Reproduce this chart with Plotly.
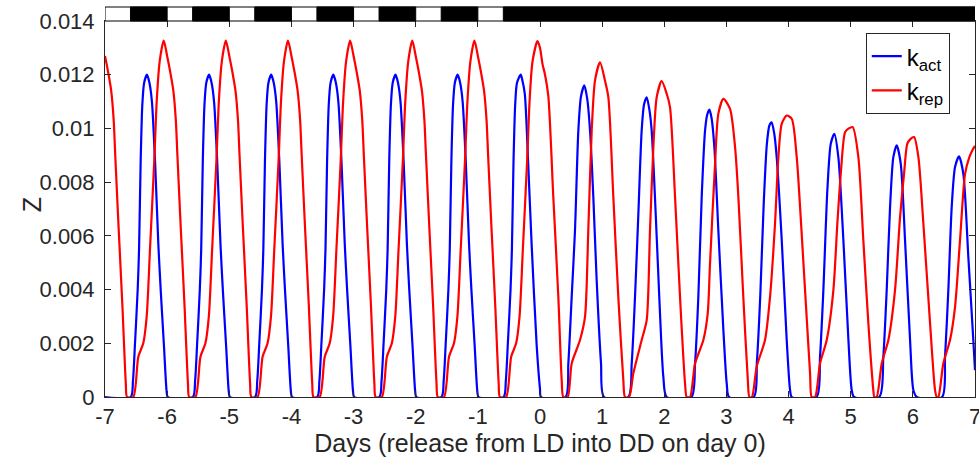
import plotly.graph_objects as go

# ---------------- data ----------------
# k_act (blue)
act_t = [
    -7.0, -6.586, -6.55, -6.517, -6.474, -6.452, -6.426, -6.399, -6.37, -6.325, -6.285, -6.245, -6.195, -6.142, -6.104, -6.051, -6.008, -5.99,
    -5.586, -5.55, -5.517, -5.474, -5.452, -5.426, -5.399, -5.37, -5.325, -5.285, -5.245, -5.195, -5.142, -5.104, -5.051, -5.008, -4.99,
    -4.586, -4.55, -4.517, -4.474, -4.452, -4.426, -4.399, -4.37, -4.325, -4.285, -4.245, -4.195, -4.142, -4.104, -4.051, -4.008, -3.99,
    -3.586, -3.55, -3.517, -3.474, -3.452, -3.426, -3.399, -3.37, -3.325, -3.285, -3.245, -3.195, -3.142, -3.104, -3.051, -3.008, -2.99,
    -2.586, -2.55, -2.517, -2.474, -2.452, -2.426, -2.399, -2.37, -2.325, -2.285, -2.245, -2.195, -2.142, -2.104, -2.051, -2.008, -1.99,
    -1.586, -1.55, -1.517, -1.474, -1.452, -1.426, -1.399, -1.37, -1.325, -1.285, -1.245, -1.195, -1.142, -1.104, -1.051, -1.008, -0.99,
    -0.586, -0.55, -0.517, -0.474, -0.452, -0.426, -0.399, -0.37, -0.31, -0.285, -0.245, -0.19, -0.135, -0.053, 0.0, 0.016,
    0.41, 0.456, 0.510, 0.563, 0.617, 0.66, 0.713, 0.76, 0.805, 0.858, 0.912, 0.982, 1.030,
    1.421, 1.476, 1.529, 1.583, 1.636, 1.675, 1.717, 1.76, 1.797, 1.878, 1.931, 1.985, 2.039,
    2.437, 2.495, 2.548, 2.602, 2.656, 2.69, 2.725, 2.76, 2.806, 2.870, 2.951, 3.005, 3.042,
    3.44, 3.49, 3.545, 3.60, 3.65, 3.69, 3.728, 3.77, 3.809, 3.890, 3.970, 4.024, 4.051,
    4.45, 4.506, 4.560, 4.624, 4.679, 4.737, 4.801, 4.882, 4.963, 5.016, 5.053,
    5.46, 5.525, 5.579, 5.633, 5.686, 5.740, 5.805, 5.874, 5.955, 6.008, 6.062,
    6.47, 6.518, 6.571, 6.625, 6.679, 6.743, 6.812, 6.893, 6.973, 7.0,
]
act_z = [
    0.0, 0.0, 0.0006, 0.0020, 0.0040, 0.0055, 0.0088, 0.0109, 0.0117, 0.0120, 0.0117, 0.0110, 0.0088, 0.0057, 0.0040, 0.0019, 0.0002, 0.0,
    0.0, 0.0006, 0.0020, 0.0040, 0.0055, 0.0088, 0.0109, 0.0117, 0.0120, 0.0117, 0.0110, 0.0088, 0.0057, 0.0040, 0.0019, 0.0002, 0.0,
    0.0, 0.0006, 0.0020, 0.0040, 0.0055, 0.0088, 0.0109, 0.0117, 0.0120, 0.0117, 0.0110, 0.0088, 0.0057, 0.0040, 0.0019, 0.0002, 0.0,
    0.0, 0.0006, 0.0020, 0.0040, 0.0055, 0.0088, 0.0109, 0.0117, 0.0120, 0.0117, 0.0110, 0.0088, 0.0057, 0.0040, 0.0019, 0.0002, 0.0,
    0.0, 0.0006, 0.0020, 0.0040, 0.0055, 0.0088, 0.0109, 0.0117, 0.0120, 0.0117, 0.0110, 0.0088, 0.0057, 0.0040, 0.0019, 0.0002, 0.0,
    0.0, 0.0006, 0.0020, 0.0040, 0.0055, 0.0088, 0.0109, 0.0117, 0.0120, 0.0117, 0.0110, 0.0088, 0.0057, 0.0040, 0.0019, 0.0002, 0.0,
    0.0, 0.0006, 0.0020, 0.0040, 0.0055, 0.0088, 0.0109, 0.0117, 0.0120, 0.0118, 0.0113, 0.0087, 0.0057, 0.0019, 0.0003, 0.0,
    0.0, 0.00125, 0.00373, 0.0062, 0.00992, 0.0112, 0.0116, 0.0111, 0.00992, 0.00745, 0.00435, 0.00125, 0.0,
    0.0, 0.00125, 0.00373, 0.00683, 0.00992, 0.0109, 0.01116, 0.0107, 0.00992, 0.00596, 0.00311, 0.00075, 0.0,
    0.0, 0.00125, 0.00373, 0.00745, 0.00992, 0.0105, 0.0107, 0.0104, 0.0093, 0.0062, 0.00249, 0.0005, 0.0,
    0.0, 0.0013, 0.0038, 0.0072, 0.0094, 0.0101, 0.01023, 0.0098, 0.00893, 0.00584, 0.00212, 0.00026, 0.0,
    0.0, 0.0015, 0.00398, 0.0077, 0.00943, 0.0098, 0.00893, 0.00584, 0.00212, 0.00026, 0.0,
    0.0, 0.0015, 0.00398, 0.00707, 0.00893, 0.00937, 0.00869, 0.00584, 0.00212, 0.00026, 0.0,
    0.0, 0.0015, 0.00398, 0.00707, 0.00856, 0.00896, 0.00831, 0.00521, 0.00212, 0.0010,
]

# k_rep (red)
rep_t = [
    -7.0, -6.95, -6.90, -6.86, -6.835, -6.785, -6.72, -6.665, -6.645,
    -6.545, -6.464, -6.384, -6.329, -6.276, -6.207, -6.168, -6.12, -6.055, -6.0, -5.95, -5.90, -5.86, -5.835, -5.785, -5.72, -5.665, -5.645,
    -5.545, -5.464, -5.384, -5.329, -5.276, -5.207, -5.168, -5.12, -5.055, -5.0, -4.95, -4.90, -4.86, -4.835, -4.785, -4.72, -4.665, -4.645,
    -4.545, -4.464, -4.384, -4.329, -4.276, -4.207, -4.168, -4.12, -4.055, -4.0, -3.95, -3.90, -3.86, -3.835, -3.785, -3.72, -3.665, -3.645,
    -3.545, -3.464, -3.384, -3.329, -3.276, -3.207, -3.168, -3.12, -3.055, -3.0, -2.95, -2.90, -2.86, -2.835, -2.785, -2.72, -2.665, -2.645,
    -2.545, -2.464, -2.384, -2.329, -2.276, -2.207, -2.168, -2.12, -2.055, -2.0, -1.95, -1.90, -1.86, -1.835, -1.785, -1.72, -1.665, -1.645,
    -1.545, -1.464, -1.384, -1.329, -1.276, -1.207, -1.168, -1.12, -1.055, -1.0, -0.95, -0.90, -0.86, -0.835, -0.785, -0.72, -0.665, -0.645,
    -0.545, -0.464, -0.384, -0.329, -0.276, -0.207, -0.168, -0.12, -0.04, 0.0, 0.04, 0.081, 0.134, 0.214, 0.295, 0.349, 0.375,
    0.445, 0.510, 0.644, 0.724, 0.777, 0.832, 0.885, 0.966, 1.046, 1.100, 1.180, 1.260, 1.341, 1.368,
    1.433, 1.502, 1.636, 1.717, 1.770, 1.824, 1.878, 1.958, 2.039, 2.092, 2.173, 2.253, 2.334, 2.361,
    2.414, 2.495, 2.629, 2.699, 2.736, 2.817, 2.870, 2.951, 3.058, 3.139, 3.192, 3.27, 3.345, 3.37,
    3.41, 3.487, 3.621, 3.702, 3.782, 3.836, 3.890, 3.970, 4.051, 4.131, 4.185, 4.265, 4.346, 4.372,
    4.426, 4.506, 4.614, 4.721, 4.785, 4.840, 4.909, 4.963, 5.032, 5.123, 5.203, 5.284, 5.364, 5.380,
    5.418, 5.499, 5.606, 5.713, 5.794, 5.858, 5.911, 5.96, 6.019, 6.089, 6.169, 6.277, 6.357, 6.384,
    6.41, 6.490, 6.598, 6.679, 6.759, 6.840, 6.909, 6.96, 7.0,
]
rep_z = [
    0.0127, 0.0121, 0.0114, 0.0103, 0.0090, 0.0065, 0.0034, 0.0005, 0.0,
    0.0, 0.0015, 0.0020, 0.0030, 0.0055, 0.0088, 0.0110, 0.0125, 0.01327, 0.0127, 0.0121, 0.0114, 0.0103, 0.0090, 0.0065, 0.0034, 0.0005, 0.0,
    0.0, 0.0015, 0.0020, 0.0030, 0.0055, 0.0088, 0.0110, 0.0125, 0.01327, 0.0127, 0.0121, 0.0114, 0.0103, 0.0090, 0.0065, 0.0034, 0.0005, 0.0,
    0.0, 0.0015, 0.0020, 0.0030, 0.0055, 0.0088, 0.0110, 0.0125, 0.01327, 0.0127, 0.0121, 0.0114, 0.0103, 0.0090, 0.0065, 0.0034, 0.0005, 0.0,
    0.0, 0.0015, 0.0020, 0.0030, 0.0055, 0.0088, 0.0110, 0.0125, 0.01327, 0.0127, 0.0121, 0.0114, 0.0103, 0.0090, 0.0065, 0.0034, 0.0005, 0.0,
    0.0, 0.0015, 0.0020, 0.0030, 0.0055, 0.0088, 0.0110, 0.0125, 0.01327, 0.0127, 0.0121, 0.0114, 0.0103, 0.0090, 0.0065, 0.0034, 0.0005, 0.0,
    0.0, 0.0015, 0.0020, 0.0030, 0.0055, 0.0088, 0.0110, 0.0125, 0.01327, 0.0127, 0.0121, 0.0114, 0.0103, 0.0090, 0.0065, 0.0034, 0.0005, 0.0,
    0.0, 0.0015, 0.0020, 0.0030, 0.0055, 0.0088, 0.0110, 0.0125, 0.01325, 0.0130, 0.0124, 0.0120, 0.0112, 0.00745, 0.00373, 0.00063, 0.0,
    0.0, 0.00125, 0.00212, 0.00298, 0.0062, 0.00992, 0.01178, 0.01246, 0.01178, 0.01116, 0.00745, 0.00373, 0.00063, 0.0,
    0.0, 0.00088, 0.00212, 0.00286, 0.0062, 0.0093, 0.01116, 0.01176, 0.01129, 0.01079, 0.00745, 0.00373, 0.0005, 0.0,
    0.0, 0.00125, 0.00212, 0.00311, 0.00497, 0.00869, 0.01055, 0.0111, 0.01073, 0.0093, 0.00745, 0.0038, 0.0006, 0.0,
    0.0, 0.00113, 0.00212, 0.00373, 0.00646, 0.00893, 0.01017, 0.01048, 0.01036, 0.00893, 0.00707, 0.00398, 0.00088, 0.0,
    0.0, 0.00125, 0.00212, 0.00398, 0.00646, 0.00831, 0.00986, 0.00999, 0.01005, 0.00893, 0.00584, 0.00274, 0.00026, 0.0,
    0.0, 0.00125, 0.00212, 0.00398, 0.0067, 0.00831, 0.00943, 0.0096, 0.00968, 0.00893, 0.00646, 0.00274, 0.00026, 0.0,
    0.0, 0.00125, 0.00212, 0.00336, 0.00584, 0.00831, 0.00893, 0.0092, 0.00935,
]

# light/dark schedule bar: light phases start at these days, length in days
light_on = [-7, -6, -5, -4, -3, -2, -1]
light_len = 0.41

x_ticks = [-7, -6, -5, -4, -3, -2, -1, 0, 1, 2, 3, 4, 5, 6, 7]
y_ticks = [0, 0.002, 0.004, 0.006, 0.008, 0.01, 0.012, 0.014]
y_tick_text = ["0", "0.002", "0.004", "0.006", "0.008", "0.01", "0.012", "0.014"]

# ---------------- figure ----------------
FONT = "Liberation Sans, Arial, Helvetica, sans-serif"
AX = "#262626"
PLOT_W, PLOT_H = 870.0, 376.0

fig = go.Figure()
fig.add_trace(go.Scatter(x=act_t, y=act_z, mode="lines", name="k<sub>act</sub>",
                         line=dict(color="#0000ff", width=2.2, shape="spline", smoothing=0.7)))
fig.add_trace(go.Scatter(x=rep_t, y=rep_z, mode="lines", name="k<sub>rep</sub>",
                         line=dict(color="#ff0000", width=2.2, shape="spline", smoothing=0.7)))

# LD bar above the plot
bar_y0, bar_y1 = 1.0, 1.0 + 14 / PLOT_H
shapes = []
shapes.append(dict(type="rect", xref="x", yref="paper", x0=x_ticks[0], x1=x_ticks[-1],
                   y0=bar_y0, y1=bar_y1, fillcolor="white", line=dict(color="black", width=1), layer="above"))
for i, s in enumerate(light_on):
    end = light_on[i + 1] if i + 1 < len(light_on) else x_ticks[-1]
    shapes.append(dict(type="rect", xref="x", yref="paper", x0=s + light_len, x1=end,
                       y0=bar_y0, y1=bar_y1, fillcolor="black", line=dict(color="black", width=1), layer="above"))

fig.update_layout(
    width=979, height=460,
    margin=dict(l=105, r=4, t=21, b=63, autoexpand=False),
    paper_bgcolor="white", plot_bgcolor="white",
    font=dict(family=FONT, color=AX, size=22),
    shapes=shapes,
    showlegend=True,
    legend=dict(x=0.971, y=0.968, xanchor="right", yanchor="top",
                bgcolor="white", bordercolor=AX, borderwidth=1,
                font=dict(size=24, color="black"), tracegroupgap=0,
                itemwidth=30),
    annotations=[dict(text="Z", xref="paper", yref="paper", x=-73 / PLOT_W, y=0.51,
                      xanchor="center", yanchor="middle", textangle=-90, showarrow=False,
                      font=dict(size=25, color=AX))],
)
fig.update_xaxes(range=[-7, 7], tickvals=x_ticks, ticktext=[str(v) for v in x_ticks],
                 ticks="inside", ticklen=6, tickcolor=AX, showline=True, linecolor=AX, linewidth=1,
                 mirror="ticks", showgrid=False, zeroline=False, automargin=False,
                 ticklabeloverflow="allow",
                 tickfont=dict(size=22, color=AX),
                 title=dict(text="Days (release from LD into DD on day 0)", font=dict(size=25, color=AX), standoff=0))
fig.update_yaxes(range=[0, 0.014], tickvals=y_ticks, ticktext=y_tick_text,
                 ticks="inside", ticklen=6, tickcolor=AX, showline=True, linecolor=AX, linewidth=1,
                 mirror="ticks", showgrid=False, zeroline=False, automargin=False,
                 ticklabeloverflow="allow",
                 tickfont=dict(size=22, color=AX), ticklabelstandoff=5)

fig.write_html("out.html", config={"displayModeBar": False},
               post_script="document.body.style.margin='0px';")
